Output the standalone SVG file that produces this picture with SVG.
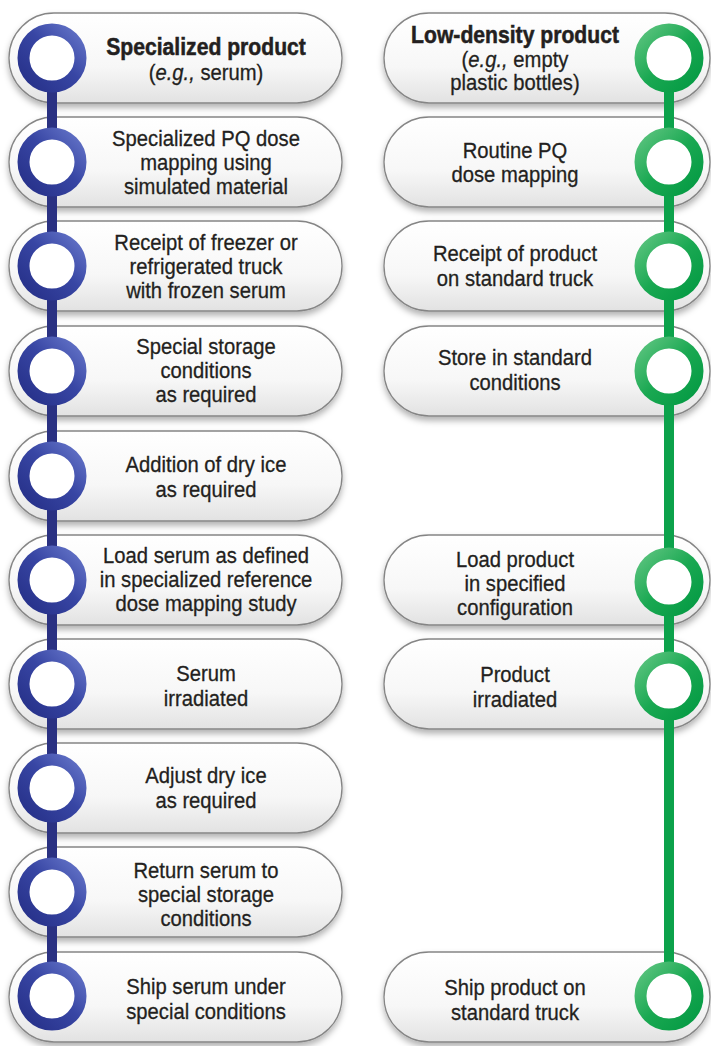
<svg xmlns="http://www.w3.org/2000/svg" width="711" height="1046" viewBox="0 0 711 1046">
<defs>
<linearGradient id="pillFill" x1="0" y1="0" x2="0" y2="1">
<stop offset="0" stop-color="#ffffff"/>
<stop offset="0.6" stop-color="#f7f7f7"/>
<stop offset="1" stop-color="#e2e2e2"/>
</linearGradient>
<linearGradient id="blueRing" x1="1" y1="0" x2="0" y2="1">
<stop offset="0" stop-color="#6474c8"/>
<stop offset="0.45" stop-color="#3846a4"/>
<stop offset="1" stop-color="#263088"/>
</linearGradient>
<linearGradient id="greenRing" x1="0" y1="0" x2="1" y2="1">
<stop offset="0" stop-color="#5cc47f"/>
<stop offset="0.5" stop-color="#1aa852"/>
<stop offset="1" stop-color="#049a43"/>
</linearGradient>
<filter id="shadow" x="-5%" y="-20%" width="110%" height="150%">
<feDropShadow dx="0" dy="4" stdDeviation="3" flood-color="#000" flood-opacity="0.3"/>
</filter>
</defs>
<style>
.pill{fill:url(#pillFill);stroke:#858585;stroke-width:1.3;filter:url(#shadow);}
.t{font-family:"Liberation Sans",Arial,sans-serif;font-size:22px;fill:#231f20;stroke:#231f20;stroke-width:0.3;text-anchor:middle;transform-box:fill-box;transform-origin:center;transform:scaleX(0.92);}
.b{font-weight:bold;font-size:23px;stroke-width:0.5;}
.i{font-style:italic;}
.lineB{stroke:#2a3182;stroke-width:10;}
.lineG{stroke:#0ca24b;stroke-width:10;}
.ringB{fill:#fff;stroke:url(#blueRing);stroke-width:12;}
.ringG{fill:#fff;stroke:url(#greenRing);stroke-width:12;}
</style>

<g id="L1"><rect class="pill" x="9" y="13" width="333" height="90" rx="45"/>
<text class="t b" x="206" y="55">Specialized product</text>
<text class="t" x="206" y="80">(<tspan class="i">e.g.,</tspan> serum)</text></g>
<g id="L2"><rect class="pill" x="9" y="117" width="333" height="90" rx="45"/>
<text class="t" x="206" y="146">Specialized PQ dose</text>
<text class="t" x="206" y="170">mapping using</text>
<text class="t" x="206" y="194">simulated material</text></g>
<g id="L3"><rect class="pill" x="9" y="221" width="333" height="90" rx="45"/>
<text class="t" x="206" y="250">Receipt of freezer or</text>
<text class="t" x="206" y="274">refrigerated truck</text>
<text class="t" x="206" y="298">with frozen serum</text></g>
<g id="L4"><rect class="pill" x="9" y="326" width="333" height="90" rx="45"/>
<text class="t" x="206" y="354">Special storage</text>
<text class="t" x="206" y="378">conditions</text>
<text class="t" x="206" y="402">as required</text></g>
<g id="L5"><rect class="pill" x="9" y="431" width="333" height="90" rx="45"/>
<text class="t" x="206" y="472">Addition of dry ice</text>
<text class="t" x="206" y="497">as required</text></g>
<g id="L6"><rect class="pill" x="9" y="535" width="333" height="90" rx="45"/>
<text class="t" x="206" y="563">Load serum as defined</text>
<text class="t" x="206" y="587">in specialized reference</text>
<text class="t" x="206" y="611">dose mapping study</text></g>
<g id="L7"><rect class="pill" x="9" y="639" width="333" height="90" rx="45"/>
<text class="t" x="206" y="681">Serum</text>
<text class="t" x="206" y="706">irradiated</text></g>
<g id="L8"><rect class="pill" x="9" y="743" width="333" height="90" rx="45"/>
<text class="t" x="206" y="783">Adjust dry ice</text>
<text class="t" x="206" y="808">as required</text></g>
<g id="L9"><rect class="pill" x="9" y="847" width="333" height="90" rx="45"/>
<text class="t" x="206" y="878">Return serum to</text>
<text class="t" x="206" y="902">special storage</text>
<text class="t" x="206" y="926">conditions</text></g>
<g id="L10"><rect class="pill" x="9" y="952" width="333" height="90" rx="45"/>
<text class="t" x="206" y="994">Ship serum under</text>
<text class="t" x="206" y="1019">special conditions</text></g>

<g id="R1"><rect class="pill" x="384" y="13" width="326" height="90" rx="45"/>
<text class="t b" x="515" y="43">Low-density product</text>
<text class="t" x="515" y="67">(<tspan class="i">e.g.,</tspan> empty</text>
<text class="t" x="515" y="90">plastic bottles)</text></g>
<g id="R2"><rect class="pill" x="384" y="117" width="326" height="90" rx="45"/>
<text class="t" x="515" y="158">Routine PQ</text>
<text class="t" x="515" y="182">dose mapping</text></g>
<g id="R3"><rect class="pill" x="384" y="221" width="326" height="90" rx="45"/>
<text class="t" x="515" y="261">Receipt of product</text>
<text class="t" x="515" y="286">on standard truck</text></g>
<g id="R4"><rect class="pill" x="384" y="326" width="326" height="90" rx="45"/>
<text class="t" x="515" y="365">Store in standard</text>
<text class="t" x="515" y="390">conditions</text></g>
<g id="R6"><rect class="pill" x="384" y="535" width="326" height="90" rx="45"/>
<text class="t" x="515" y="567">Load product</text>
<text class="t" x="515" y="591">in specified</text>
<text class="t" x="515" y="615">configuration</text></g>
<g id="R7"><rect class="pill" x="384" y="639" width="326" height="90" rx="45"/>
<text class="t" x="515" y="682">Product</text>
<text class="t" x="515" y="707">irradiated</text></g>
<g id="R10"><rect class="pill" x="384" y="952" width="326" height="90" rx="45"/>
<text class="t" x="515" y="995">Ship product on</text>
<text class="t" x="515" y="1020">standard truck</text></g>

<g id="connectors">
<line class="lineB" x1="52" y1="58" x2="52" y2="996"/>
<line class="lineG" x1="669" y1="58" x2="669" y2="996"/>
<circle class="ringB" cx="52" cy="58" r="28.5"/>
<circle class="ringB" cx="52" cy="162" r="28.5"/>
<circle class="ringB" cx="52" cy="266" r="28.5"/>
<circle class="ringB" cx="52" cy="371" r="28.5"/>
<circle class="ringB" cx="52" cy="476" r="28.5"/>
<circle class="ringB" cx="52" cy="580" r="28.5"/>
<circle class="ringB" cx="52" cy="684" r="28.5"/>
<circle class="ringB" cx="52" cy="788" r="28.5"/>
<circle class="ringB" cx="52" cy="892" r="28.5"/>
<circle class="ringB" cx="52" cy="996" r="28.5"/>
<circle class="ringG" cx="669" cy="58" r="28.5"/>
<circle class="ringG" cx="669" cy="162" r="28.5"/>
<circle class="ringG" cx="669" cy="266" r="28.5"/>
<circle class="ringG" cx="669" cy="371" r="28.5"/>
<circle class="ringG" cx="669" cy="582" r="28.5"/>
<circle class="ringG" cx="669" cy="686" r="28.5"/>
<circle class="ringG" cx="669" cy="996" r="28.5"/>
</g>
</svg>
